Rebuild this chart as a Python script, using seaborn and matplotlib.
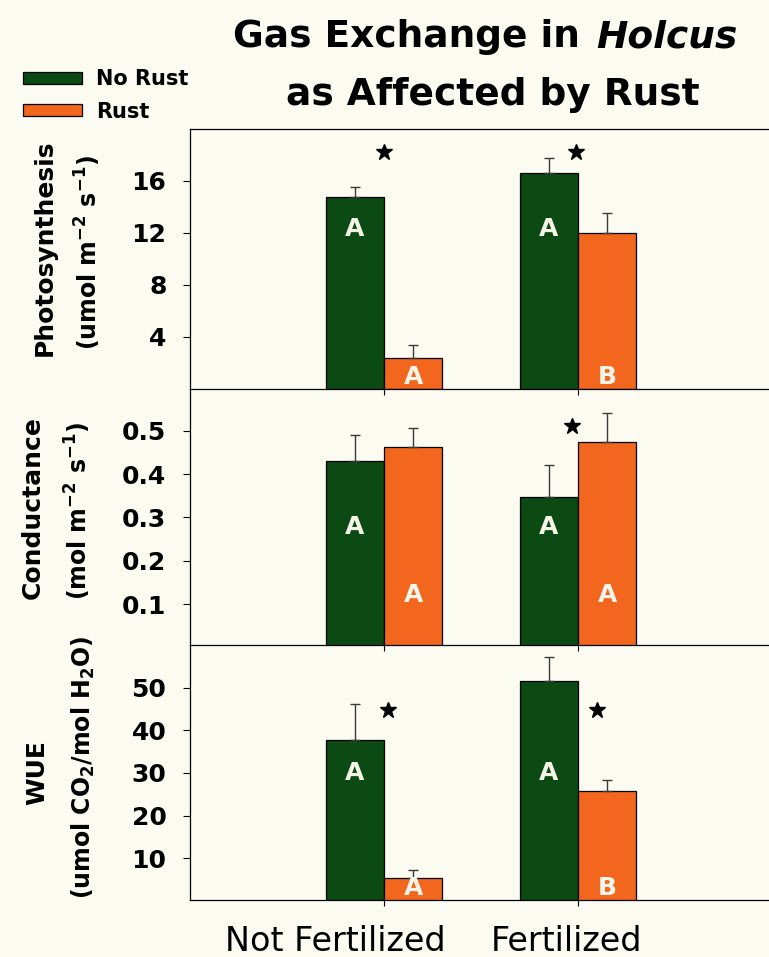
import numpy as np
import pandas as pd
import matplotlib.pyplot as plt
import seaborn as sns

# datos
tratamientos = ["Not Fertilized", "Fertilized"]
grupos = ["No Rust", "Rust"]

photo_no_rust = [14.8, 16.6]
photo_rust = [2.4, 12.0]
photo_no_rust_err = [0.7, 1.2]
photo_rust_err = [0.95, 1.5]
photo_letras_no_rust = ["A", "A"]
photo_letras_rust = ["A", "B"]
photo_sig = [True, True]

cond_no_rust = [0.430, 0.347]
cond_rust = [0.462, 0.475]
cond_no_rust_err = [0.060, 0.074]
cond_rust_err = [0.043, 0.066]
cond_letras_no_rust = ["A", "A"]
cond_letras_rust = ["A", "A"]
cond_sig = [False, True]

wue_no_rust = [37.8, 51.5]
wue_rust = [5.3, 25.8]
wue_no_rust_err = [8.3, 5.8]
wue_rust_err = [1.9, 2.5]
wue_letras_no_rust = ["A", "A"]
wue_letras_rust = ["A", "B"]
wue_sig = [True, True]

verde = "#0c4a14"
naranja = "#f2661e"
fondo = "#fbfbf1"

W, H = 769, 957


def fx(x):
    return x / W


def fy(y):
    return 1 - y / H


sns.set_style("ticks")
plt.rcParams['font.family'] = ['DejaVu Sans']
plt.rcParams['mathtext.default'] = 'bf'
plt.rcParams['text.color'] = 'black'
plt.rcParams['axes.labelcolor'] = 'black'
plt.rcParams['xtick.color'] = 'black'
plt.rcParams['ytick.color'] = 'black'
plt.rcParams['axes.edgecolor'] = 'black'

fig = plt.figure(figsize=(W / 100, H / 100), dpi=100, facecolor=fondo)

# paneles: (top px, bottom px)
paneles = [
    dict(no=photo_no_rust, ru=photo_rust, no_e=photo_no_rust_err, ru_e=photo_rust_err,
         l_no=photo_letras_no_rust, l_ru=photo_letras_rust, sig=photo_sig,
         top=129, bot=389, ylim=(0, 20), ticks=[4, 8, 12, 16],
         ylet=(12.3, 0.95), star_x=[0.0, -0.01], star_y=18.2),
    dict(no=cond_no_rust, ru=cond_rust, no_e=cond_no_rust_err, ru_e=cond_rust_err,
         l_no=cond_letras_no_rust, l_ru=cond_letras_rust, sig=cond_sig,
         top=389, bot=645, ylim=(0.006, 0.596), ticks=[0.1, 0.2, 0.3, 0.4, 0.5],
         ylet=(0.279, 0.121), star_x=[0.0, -0.03], star_y=0.51),
    dict(no=wue_no_rust, ru=wue_rust, no_e=wue_no_rust_err, ru_e=wue_rust_err,
         l_no=wue_letras_no_rust, l_ru=wue_letras_rust, sig=wue_sig,
         top=645, bot=900, ylim=(0.2, 60), ticks=[10, 20, 30, 40, 50],
         ylet=(30, 3.0), star_x=[0.02, 0.10], star_y=44.8),
]

axes = []
for i, p in enumerate(paneles):
    ax = fig.add_axes([fx(190), fy(p["bot"]), fx(772 - 190), (p["bot"] - p["top"]) / H])
    ax.set_facecolor("none")
    df = pd.DataFrame({
        "Tratamiento": tratamientos * 2,
        "Grupo": [grupos[0]] * 2 + [grupos[1]] * 2,
        "valor": p["no"] + p["ru"],
    })
    sns.barplot(data=df, x="Tratamiento", y="valor", hue="Grupo", hue_order=grupos,
                palette=[verde, naranja], width=0.6, edgecolor="black", linewidth=0.9,
                errorbar=None, saturation=1, ax=ax, legend=(i == 0))
    for cont, errs, letras, yl in zip(ax.containers, [p["no_e"], p["ru_e"]],
                                      [p["l_no"], p["l_ru"]], p["ylet"]):
        xs = [b.get_x() + b.get_width() / 2 for b in cont]
        ys = [b.get_height() for b in cont]
        ax.errorbar(xs, ys, yerr=[np.zeros(len(errs)), errs], fmt="none",
                    ecolor="#3a3a3a", elinewidth=1, capsize=3.5, capthick=1, zorder=1)
        for xb, let in zip(xs, letras):
            ax.text(xb, yl, let, color="#f4f4e8", fontsize=18, fontweight="bold",
                    ha="center", va="center", zorder=5)
    for j, s in enumerate(p["sig"]):
        if s:
            ax.plot(j + p["star_x"][j], p["star_y"], marker="*", ms=12, color="black")
    ax.set_xlim(-1, 2)
    ax.set_ylim(*p["ylim"])
    ax.set_yticks(p["ticks"])
    ax.set_xticks([0, 1])
    ax.set_xticklabels([])
    ax.set_xlabel("")
    ax.set_ylabel("")
    ax.tick_params(axis="y", labelsize=18, length=5, width=0.8, pad=12, direction="out")
    ax.tick_params(axis="x", length=4.5, width=0.8, direction="out")
    for lab in ax.get_yticklabels():
        lab.set_fontweight("bold")
    ax.spines["right"].set_visible(False)
    ax.spines["top"].set_visible(i == 0)
    for s in ["left", "bottom", "top"]:
        ax.spines[s].set_linewidth(0.9)
    axes.append(ax)

# leyenda
ax0 = axes[0]
h, l = ax0.get_legend_handles_labels()
ax0.legend(h, l, loc="upper left", bbox_to_anchor=(fx(23), fy(69)),
           bbox_transform=fig.transFigure, frameon=False,
           prop={"weight": "bold", "size": 15}, handlelength=2.85, handleheight=0.5,
           handletextpad=0.65, labelspacing=0.6, borderpad=0, borderaxespad=0)

# titulo
fig.text(fx(580), fy(47), "Gas Exchange in", fontsize=27, fontweight="bold",
         ha="right", va="baseline")
fig.text(fx(596), fy(47), "Holcus", fontsize=27, fontweight="bold", style="italic",
         ha="left", va="baseline")
fig.text(fx(493), fy(105), "as Affected by Rust", fontsize=27, fontweight="bold",
         ha="center", va="baseline")

# etiquetas eje y
etiquetas_y = [
    ("Photosynthesis", 45, 248, 18), (r"(umol m$^{-2}$ s$^{-1}$)", 88, 252, 17),
    ("Conductance", 33, 508, 18), (r"(mol m$^{-2}$ s$^{-1}$)", 78, 511, 17),
    ("WUE", 37, 773, 18), (r"(umol CO$_2$/mol H$_2$O)", 83, 767, 17),
]
for txt, x, y, fs in etiquetas_y:
    fig.text(fx(x), fy(y), txt, rotation=90, fontsize=fs, fontweight="bold",
             ha="center", va="center")

# etiquetas eje x
fig.text(fx(335), fy(951), tratamientos[0], fontsize=24, ha="center", va="baseline")
fig.text(fx(567), fy(951), tratamientos[1], fontsize=24, ha="center", va="baseline")

fig.savefig("out.png", dpi=100, facecolor=fondo)
